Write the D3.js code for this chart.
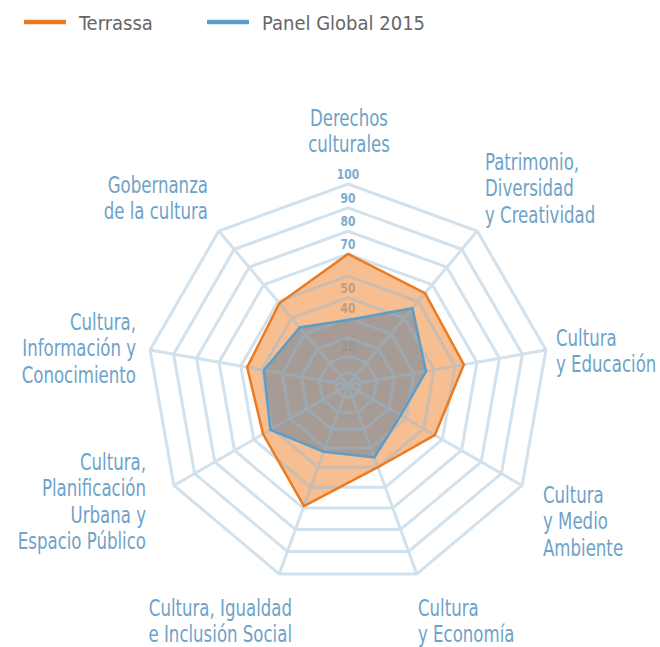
<!DOCTYPE html>
<html>
<head>
<meta charset="utf-8">
<script src="https://cdn.jsdelivr.net/npm/d3@7"></script>
<style>
  body { margin: 0; background: #fff; }
  text { font-family: "Liberation Sans Narrow", "DejaVu Sans Condensed", sans-serif; }
</style>
</head>
<body>
<svg id="radar" width="660" height="647"></svg>
<script>
// axes, clockwise from the top
var axes = [
	['Derechos', 'culturales'],
	['Patrimonio,', 'Diversidad', 'y Creatividad'],
	['Cultura', 'y Educación'],
	['Cultura', 'y Medio', 'Ambiente'],
	['Cultura', 'y Economía'],
	['Cultura, Igualdad', 'e Inclusión Social'],
	['Cultura,', 'Planificación', 'Urbana y', 'Espacio Público'],
	['Cultura,', 'Información y', 'Conocimiento'],
	['Gobernanza', 'de la cultura']
];
var terrassa = [70, 65, 64, 56, 50, 69, 55, 57, 59];
var panel = [39, 56, 46, 37, 45, 42, 51, 49, 44];
var rings = [10, 20, 30, 40, 50, 60, 70, 80, 90, 100];
var ring_labels = [20, 40, 50, 70, 80, 90, 100];
var series_names = ['Terrassa', 'Panel Global 2015'];

var svg = d3.select('#radar');
var cx = 348, cy = 385, R = 201;
var n = axes.length;

var r_scale = d3.scalePow().exponent(1.2).domain([0, 100]).range([0, R]);
var a_scale = d3.scaleLinear().domain([0, n]).range([0, 2 * Math.PI]);

function pt(i, v) {
	var a = a_scale(i);
	return [cx + r_scale(v) * Math.sin(a), cy - r_scale(v) * Math.cos(a)];
}

// ring value labels (under the fills)
svg.selectAll('.rlabel').data(ring_labels).enter().append('text').attr('class', 'rlabel')
	.attr('transform', d => 'translate(' + cx + ',' + (cy - r_scale(d) - 5) + ') scale(0.85,1)')
	.attr('text-anchor', 'middle').attr('font-size', 14).attr('font-weight', 'bold')
	.attr('fill', '#7eaccc').text(d => d);

var line = d3.line();

// fills
svg.append('path').datum(terrassa.map((v, i) => pt(i, v)))
	.attr('d', d => line(d) + 'Z').attr('fill', '#f2934a').attr('opacity', 0.6);
svg.append('path').datum(panel.map((v, i) => pt(i, v)))
	.attr('d', d => line(d) + 'Z').attr('fill', 'rgb(138,144,150)').attr('opacity', 0.74);

// grid on top, translucent
var grid = svg.append('g').attr('opacity', 0.42);
grid.selectAll('.ring').data(rings).enter().append('path').attr('class', 'ring')
	.attr('d', v => line(d3.range(n).map(i => pt(i, v))) + 'Z')
	.attr('fill', 'none').attr('stroke', '#93bad6').attr('stroke-width', 3);
grid.selectAll('.spoke').data(d3.range(1, n)).enter().append('line').attr('class', 'spoke')
	.attr('x1', cx).attr('y1', cy)
	.attr('x2', i => pt(i, 100)[0]).attr('y2', i => pt(i, 100)[1])
	.attr('stroke', '#93bad6').attr('stroke-width', 3);

// outlines
svg.append('path').datum(terrassa.map((v, i) => pt(i, v)))
	.attr('d', d => line(d) + 'Z').attr('fill', 'none')
	.attr('stroke', '#ec7a1e').attr('stroke-width', 2.5).attr('stroke-linejoin', 'miter');
svg.append('path').datum(panel.map((v, i) => pt(i, v)))
	.attr('d', d => line(d) + 'Z').attr('fill', 'none')
	.attr('stroke', '#5b9ec9').attr('stroke-width', 2.5).attr('stroke-linejoin', 'miter');

// category labels: anchor point, alignment, first baseline
var label_pos = [
	[349, 126, 'middle'],
	[485, 170, 'start'],
	[556, 346, 'start'],
	[543, 503, 'start'],
	[418, 616, 'start'],
	[292, 616, 'end'],
	[146, 470, 'end'],
	[136, 330, 'end'],
	[208, 193, 'end']
];
var lh = 26.5;
axes.forEach(function(lines, i) {
	var p = label_pos[i];
	var t = svg.append('text').attr('transform', 'translate(' + p[0] + ',' + p[1] + ') scale(0.82,1)')
		.attr('text-anchor', p[2]).attr('font-size', 22.5).attr('fill', '#6ea3c8');
	lines.forEach(function(s, j) {
		t.append('tspan').attr('x', 0).attr('y', j * lh).text(s);
	});
});

// legend
var legend_x = [24, 207];
var legend_col = ['#ec7a1e', '#5b9ec9'];
var lg = svg.selectAll('.leg').data(series_names).enter().append('g').attr('class', 'leg')
	.attr('transform', (d, i) => 'translate(' + legend_x[i] + ',22)');
lg.append('line').attr('x1', 0).attr('x2', 42).attr('y1', 0).attr('y2', 0)
	.attr('stroke', (d, i) => legend_col[i]).attr('stroke-width', 4.5);
lg.append('text').attr('x', 55).attr('y', 8).attr('font-size', 20).attr('fill', '#666').text(d => d);
</script>
</body>
</html>
